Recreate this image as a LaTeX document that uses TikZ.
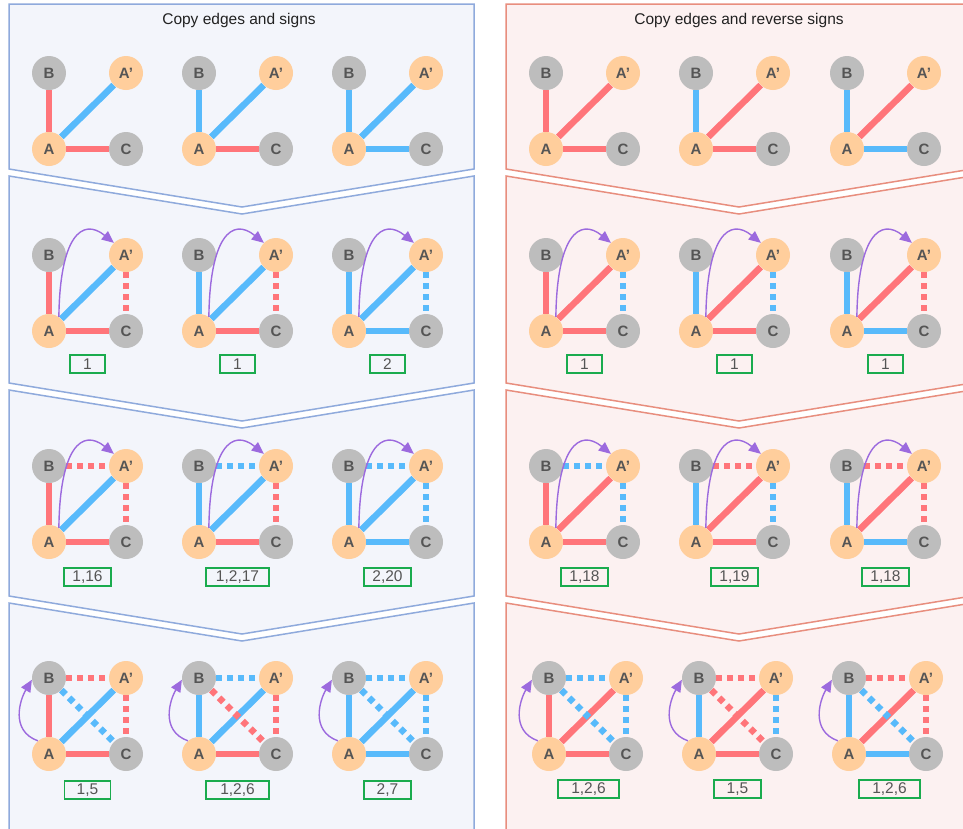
\documentclass[tikz,border=0pt]{standalone}
\usepackage{fontspec}
\setmainfont{Liberation Sans}
\usetikzlibrary{arrows.meta}
\definecolor{lstroke}{HTML}{8FAADC}
\definecolor{lfill}{HTML}{F3F5FB}
\definecolor{rstroke}{HTML}{E88E7E}
\definecolor{rfill}{HTML}{FCF1F1}
\definecolor{er}{HTML}{FF757A}
\definecolor{eb}{HTML}{58BAFB}
\definecolor{ngray}{HTML}{BDBDBD}
\definecolor{npeach}{HTML}{FFCE9C}
\definecolor{ntext}{HTML}{555555}
\definecolor{arrowc}{HTML}{9C6ADE}
\definecolor{boxg}{HTML}{1AAB4E}
\pgfdeclarelayer{panels}\pgfdeclarelayer{edges}
\pgfsetlayers{panels,edges,main}
\tikzset{
  lpanel/.style={draw=lstroke, fill=lfill, line width=1.5pt, line join=miter},
  rpanel/.style={draw=rstroke, fill=rfill, line width=1.5pt, line join=miter},
  gnode/.style={circle, fill=ngray, minimum size=34pt, inner sep=0pt, text=ntext,
    font=\fontsize{15}{15}\selectfont\bfseries},
  pnode/.style={gnode, fill=npeach},
  sedge/.style={line width=6.5pt},
  dedge/.style={line width=6.5pt, dash pattern=on 6pt off 5pt},
  arr/.style={draw=arrowc, line width=1.4pt, -{Triangle[length=12pt,width=10.5pt]}},
  lbl/.style={draw=boxg, line width=1.5pt, minimum height=18pt, inner sep=0pt,
    minimum width=#1, text=ntext, font=\fontsize{15.5}{16}\selectfont},
  titletext/.style={font=\fontsize{15.5}{16}\selectfont, text=black!87},
}
\newcommand\gnodes[3]{\path (#2,#3) node[gnode] (#1B) {B} ++(77,0) node[pnode] (#1P) {A’}
  ++(0,76) node[gnode] (#1C) {C} ++(-77,0) node[pnode] (#1A) {A};}
\newcommand\tri[4]{\draw[sedge,#2] (#1B) -- (#1A); \draw[sedge,#3] (#1A) -- (#1P);
  \draw[sedge,#4] (#1A) -- (#1C);}
\newcommand\dtd[4]{\draw[dedge,#4] (#1#2) -- (#1#3);}
\newcommand\arrUp[1]{\draw[arr] (#1A.55) .. controls +(1,-80) and +(-32,-26) .. (#1P.135);}
\newcommand\arrLeft[1]{\draw[arr] (#1A.130) .. controls +(-28,-10) and +(-12,20) .. (#1B.186);}
\begin{document}
\begin{tikzpicture}[x=1pt,y=-1pt]
\useasboundingbox (0,0) rectangle (963,828);
\begin{pgfonlayer}{panels}
\clip (0,0) rectangle (963,828);
\fill[white] (0,0) rectangle (963,828);
\draw[lpanel] (9,4) -- (474,4) -- (474,169) -- (242,207) -- (9,169) -- cycle;
\draw[lpanel] (9,176) -- (242,214) -- (474,176) -- (474,383) -- (242,421) -- (9,383) -- cycle;
\draw[lpanel] (9,390) -- (242,428) -- (474,390) -- (474,596) -- (242,634) -- (9,596) -- cycle;
\draw[lpanel] (9,603) -- (242,641) -- (474,603) -- (474,850) -- (9,850) -- cycle;
\draw[rpanel] (506,4) -- (972,4) -- (972,169) -- (739,207) -- (506,169) -- cycle;
\draw[rpanel] (506,176) -- (739,214) -- (972,176) -- (972,383) -- (739,421) -- (506,383) -- cycle;
\draw[rpanel] (506,390) -- (739,428) -- (972,390) -- (972,596) -- (739,634) -- (506,596) -- cycle;
\draw[rpanel] (506,603) -- (739,641) -- (972,603) -- (972,850) -- (506,850) -- cycle;
\end{pgfonlayer}

\node[titletext] (t1) at (239,20) {Copy edges and signs};
\node[titletext] (t2) at (739,20) {Copy edges and reverse signs};

% nodes
\gnodes{L11}{49}{73}  \gnodes{L12}{199}{73}  \gnodes{L13}{349}{73}
\gnodes{L21}{49}{255} \gnodes{L22}{199}{255} \gnodes{L23}{349}{255}
\gnodes{L31}{49}{466} \gnodes{L32}{199}{466} \gnodes{L33}{349}{466}
\gnodes{L41}{49}{678} \gnodes{L42}{199}{678} \gnodes{L43}{349}{678}
\gnodes{R11}{546}{73}  \gnodes{R12}{696}{73}  \gnodes{R13}{847}{73}
\gnodes{R21}{546}{255} \gnodes{R22}{696}{255} \gnodes{R23}{847}{255}
\gnodes{R31}{546}{466} \gnodes{R32}{696}{466} \gnodes{R33}{847}{466}
\gnodes{R41}{549}{678} \gnodes{R42}{699}{678} \gnodes{R43}{849}{678}

\begin{pgfonlayer}{edges}
\foreach \r in {1,2,3,4}{
  \tri{L\r1}{er}{eb}{er} \tri{L\r2}{eb}{eb}{er} \tri{L\r3}{eb}{eb}{eb}
  \tri{R\r1}{er}{er}{er} \tri{R\r2}{eb}{er}{er} \tri{R\r3}{eb}{er}{eb}
}
\foreach \r in {2,3,4}{
  \dtd{L\r1}{P}{C}{er} \dtd{L\r2}{P}{C}{er} \dtd{L\r3}{P}{C}{eb}
  \dtd{R\r1}{P}{C}{eb} \dtd{R\r2}{P}{C}{eb} \dtd{R\r3}{P}{C}{er}
}
\foreach \r in {3,4}{
  \dtd{L\r1}{B}{P}{er} \dtd{L\r2}{B}{P}{eb} \dtd{L\r3}{B}{P}{eb}
  \dtd{R\r1}{B}{P}{eb} \dtd{R\r2}{B}{P}{er} \dtd{R\r3}{B}{P}{er}
}
\dtd{L41}{B}{C}{eb} \dtd{L42}{B}{C}{er} \dtd{L43}{B}{C}{eb}
\dtd{R41}{B}{C}{eb} \dtd{R42}{B}{C}{er} \dtd{R43}{B}{C}{eb}
\end{pgfonlayer}

% arrows
\foreach \g in {L21,L22,L23,L31,L32,L33,R21,R22,R23,R31,R32,R33}{\arrUp{\g}}
\foreach \g in {L41,L42,L43,R41,R42,R43}{\arrLeft{\g}}

% labels
\node[lbl=35pt] (bL21) at (87.5,364) {1};
\node[lbl=35pt] (bL22) at (237.5,364) {1};
\node[lbl=35pt] (bL23) at (387.5,364) {2};
\node[lbl=47pt] (bL31) at (87.5,577) {1,16};
\node[lbl=63pt] (bL32) at (237.5,577) {1,2,17};
\node[lbl=47pt] (bL33) at (387.5,577) {2,20};
\node[lbl=46pt] (bL41) at (87.5,790) {1,5};
\node[lbl=63pt] (bL42) at (237.5,790) {1,2,6};
\node[lbl=47pt] (bL43) at (387.5,790) {2,7};
\node[lbl=35pt] (bR21) at (584.5,364) {1};
\node[lbl=35pt] (bR22) at (734.5,364) {1};
\node[lbl=35pt] (bR23) at (885.5,364) {1};
\node[lbl=47pt] (bR31) at (584.5,577) {1,18};
\node[lbl=47pt] (bR32) at (734.5,577) {1,19};
\node[lbl=47pt] (bR33) at (885.5,577) {1,18};
\node[lbl=61pt] (bR41) at (588.5,789) {1,2,6};
\node[lbl=47pt] (bR42) at (737.5,789) {1,5};
\node[lbl=61pt] (bR43) at (889.5,789) {1,2,6};
\end{tikzpicture}
\end{document}
